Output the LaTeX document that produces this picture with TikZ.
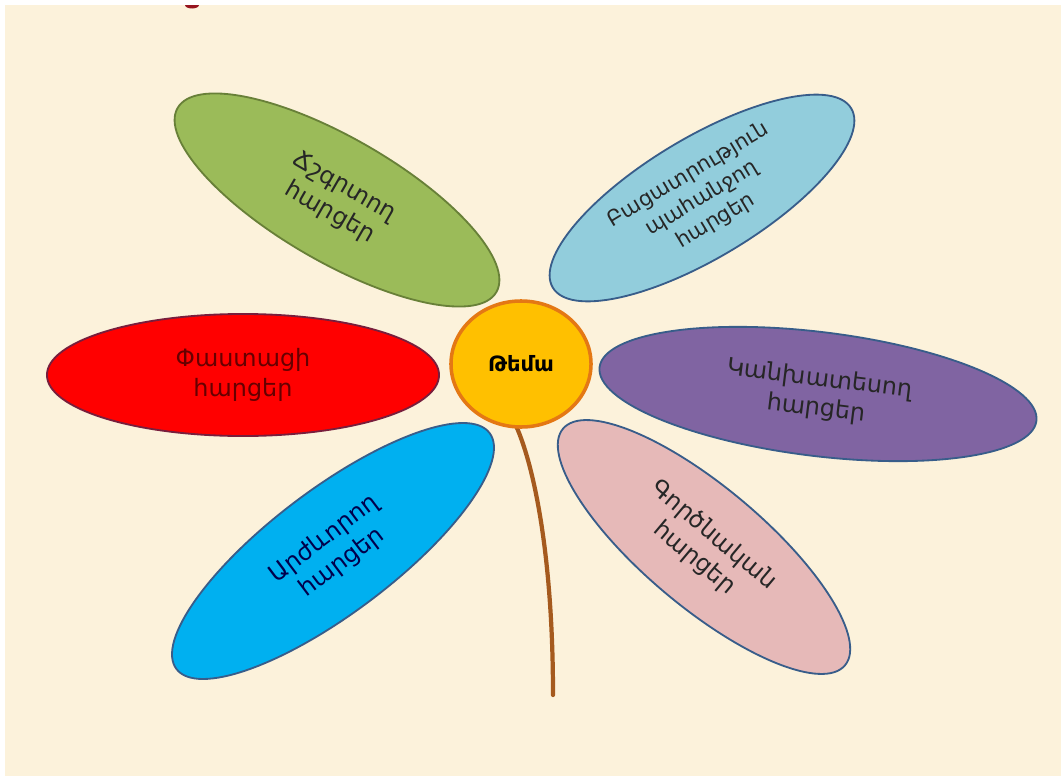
\documentclass[tikz,border=0pt]{standalone}
\usepackage{fontspec}
\newfontfamily\armfont{DejaVu Sans}
\usetikzlibrary{shapes.geometric}

\definecolor{paper}{RGB}{252,242,219}
\definecolor{petalgreen}{RGB}{155,187,89}
\definecolor{greenline}{RGB}{104,128,56}
\definecolor{petalsky}{RGB}{146,205,220}
\definecolor{petalred}{RGB}{255,0,0}
\definecolor{redline}{RGB}{120,30,60}
\definecolor{petalpurple}{RGB}{128,100,162}
\definecolor{petalblue}{RGB}{0,176,240}
\definecolor{petalpink}{RGB}{230,185,184}
\definecolor{petalline}{RGB}{56,93,138}
\definecolor{themeorange}{RGB}{255,192,0}
\definecolor{themeline}{RGB}{228,120,20}
\definecolor{stembrown}{RGB}{165,90,30}
\definecolor{topmark}{RGB}{150,20,30}

\begin{document}
\begin{tikzpicture}[x=0.025cm, y=0.025cm,
  petal/.style={ellipse, draw=petalline, line width=1.3pt, inner sep=0pt, align=center,
    text=black!85, font=\armfont\fontsize{17}{21}\selectfont},
  stem/.style={draw=stembrown, line width=3pt, line cap=round}]
  \useasboundingbox (0,0) rectangle (1061,-776);
  \fill[white] (0,0) rectangle (1061,-776);
  \fill[paper] (5,-5) rectangle (1075,-790);
  \fill[topmark] (185,-5) arc[start angle=180, end angle=360, x radius=7, y radius=3.5] -- cycle;
  \node[petal, fill=petalgreen, draw=greenline, rotate=-30, minimum width=9.2cm, minimum height=3.1cm] (exact) at (337,-200) {Ճշգրտող\\հարցեր};
  \node[petal, fill=petalsky, rotate=31, minimum width=8.7cm, minimum height=3.0cm,
    font=\armfont\fontsize{15}{19}\selectfont] (explain) at (702,-198) {Բացատրություն\\պահանջող\\հարցեր};
  \node[petal, fill=petalred, draw=redline, text=red!40!black, minimum width=9.8cm, minimum height=3.05cm] (fact) at (243,-375) {Փաստացի\\հարցեր};
  \node[petal, fill=petalpurple, rotate=-7, minimum width=11cm, minimum height=3.1cm] (predict) at (818,-394) {Կանխատեսող\\հարցեր};
  \node[petal, fill=petalblue, rotate=37, text=blue!30!black, minimum width=9.8cm, minimum height=3.1cm] (value) at (333,-551) {Արժևորող\\հարցեր};
  \node[petal, fill=petalpink, rotate=-40, minimum width=9.2cm, minimum height=3.0cm] (practice) at (704,-547) {Գործնական\\հարցեր};
  \coordinate (root) at (553,-695);
  \draw[stem] (517,-428) .. controls (535,-470) and (553,-560) .. (root);
  \node[ellipse, fill=themeorange, draw=themeline, line width=2.5pt, minimum width=3.5cm, minimum height=3.15cm,
    font=\armfont\bfseries\fontsize{15}{17}\selectfont] (theme) at (521,-364) {Թեմա};
\end{tikzpicture}
\end{document}
